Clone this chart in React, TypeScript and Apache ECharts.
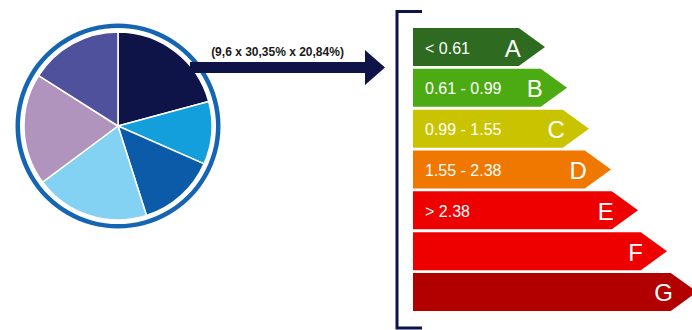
import React, { useEffect, useRef } from "react";
import * as echarts from "echarts";

// Energy-class scale (top to bottom)
const classes = ["A", "B", "C", "D", "E", "F", "G"];
const ranges = ["< 0.61", "0.61 - 0.99", "0.99 - 1.55", "1.55 - 2.38", "> 2.38", "", ""];
const arrowLengths = [132, 154, 176, 198, 225, 254, 284];
const classColors = ["#2e6a20", "#4cab12", "#cac300", "#f07800", "#ee0000", "#ee0000", "#b20000"];

// Pie slices (clockwise from 12 o'clock)
const sliceValues = [20.8, 10.8, 13.5, 19.7, 19.2, 16.0];
const sliceColors = ["#0e1448", "#139fdc", "#0b5ba8", "#84d2f3", "#b094be", "#4f519d"];
const pieLabel = "(9,6 x 30,35% x 20,84%)";

const NAVY = "#0e1448";
const FONT = "'Liberation Sans', Arial, Helvetica, sans-serif";

export default function App() {
  const ref = useRef<HTMLDivElement>(null);

  useEffect(() => {
    document.body.style.margin = "0";
    if (!ref.current) return;
    const chart = echarts.init(ref.current, null, { renderer: "svg" });

    const option: any = {
      animation: false,
      backgroundColor: "#ffffff",
      grid: { left: 413, right: 0, top: 26.6, bottom: 17.6 },
      xAxis: { type: "value", min: 0, max: 279, show: false },
      yAxis: { type: "category", data: classes, inverse: true, show: false },
      series: [
        {
          type: "pie",
          center: [118, 126],
          radius: [98, 102.5],
          startAngle: 90,
          silent: true,
          label: { show: false },
          labelLine: { show: false },
          data: [{ value: 1, itemStyle: { color: "#1565b3" } }],
        },
        {
          type: "pie",
          center: [118, 126],
          radius: [0, 94],
          startAngle: 90,
          clockwise: true,
          silent: true,
          label: { show: false },
          labelLine: { show: false },
          itemStyle: { borderColor: "#ffffff", borderWidth: 1.5 },
          data: sliceValues.map((v, i) => ({ value: v, itemStyle: { color: sliceColors[i] } })),
        },
        {
          type: "custom",
          silent: true,
          clip: false,
          encode: { x: 0, y: 1 },
          data: arrowLengths.map((v, i) => [v, i]),
          renderItem: (params: any, api: any) => {
            const i = api.value(1) as number;
            const len = api.value(0) as number;
            const start = api.coord([0, i]);
            const end = api.coord([len, i]);
            const band = api.size([0, 1])[1];
            const h = band * 0.93;
            const tip = h * 0.69;
            const x0 = start[0];
            const xt = end[0];
            const yc = start[1];
            const xr = xt - tip;
            return {
              type: "group",
              children: [
                {
                  type: "polygon",
                  shape: {
                    points: [
                      [x0, yc - h / 2],
                      [xr, yc - h / 2],
                      [xt, yc],
                      [xr, yc + h / 2],
                      [x0, yc + h / 2],
                    ],
                  },
                  style: { fill: classColors[i] },
                },
                {
                  type: "text",
                  style: {
                    text: ranges[i],
                    x: x0 + 12,
                    y: yc + 1,
                    align: "left",
                    verticalAlign: "middle",
                    fill: "#ffffff",
                    font: `16px ${FONT}`,
                  },
                },
                {
                  type: "text",
                  style: {
                    text: classes[i],
                    x: xr + 2,
                    y: yc + 1,
                    align: "right",
                    verticalAlign: "middle",
                    fill: "#ffffff",
                    font: `24px ${FONT}`,
                  },
                },
              ],
            };
          },
        },
      ],
      graphic: [
        {
          type: "polygon",
          z: 100,
          shape: {
            points: [
              [190, 62],
              [365, 62],
              [365, 50],
              [385, 67.5],
              [365, 85],
              [365, 73],
              [190, 73],
            ],
          },
          style: { fill: NAVY },
        },
        {
          type: "text",
          z: 100,
          x: 277.5,
          y: 52,
          style: {
            text: pieLabel,
            align: "center",
            verticalAlign: "middle",
            fill: "#1a1a1a",
            font: `bold 12px ${FONT}`,
          },
        },
        {
          type: "polyline",
          z: 100,
          shape: {
            points: [
              [422, 11.5],
              [397, 11.5],
              [397, 328],
              [422, 328],
            ],
          },
          style: { stroke: NAVY, lineWidth: 3, fill: "none" },
        },
      ],
    };

    chart.setOption(option);
    return () => chart.dispose();
  }, []);

  return <div ref={ref} style={{ width: 692, height: 330 }} />;
}
